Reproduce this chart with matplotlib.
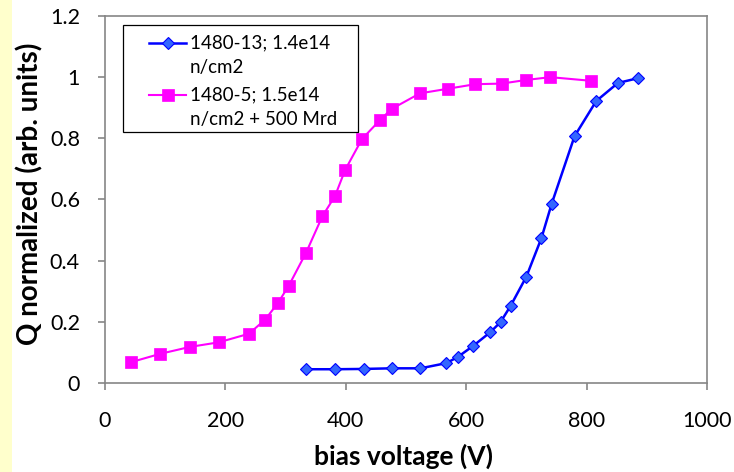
import matplotlib as mpl
import matplotlib.pyplot as plt
from matplotlib.lines import Line2D
from matplotlib.patches import Rectangle

mpl.rcParams['font.family'] = ['Lato', 'DejaVu Sans']

# 1480-13; 1.4e14 n/cm2
v_13 = [334, 382, 430, 476, 524, 567, 586, 612, 640, 657, 674, 700, 725, 742, 780, 816, 852, 886]
q_13 = [0.045, 0.045, 0.046, 0.048, 0.048, 0.065, 0.085, 0.122, 0.166, 0.199, 0.253, 0.348,
        0.474, 0.586, 0.807, 0.922, 0.981, 0.997]

# 1480-5; 1.5e14 n/cm2 + 500 Mrd
v_5 = [43, 91, 141, 189, 239, 266, 287, 305, 334, 361, 382, 399, 427, 457, 476, 523, 569,
       615, 659, 700, 740, 808]
q_5 = [0.068, 0.095, 0.118, 0.133, 0.161, 0.207, 0.261, 0.317, 0.426, 0.545, 0.611, 0.697,
       0.798, 0.860, 0.896, 0.947, 0.962, 0.977, 0.979, 0.991, 1.000, 0.988]

labels = [["1480-13; 1.4e14", "n/cm2"], ["1480-5; 1.5e14", "n/cm2 + 500 Mrd"]]

W, H = 734, 472
fig = plt.figure(figsize=(W / 100, H / 100), dpi=100)
ax = fig.add_axes([105 / W, 1 - 383 / H, 602 / W, 367 / H])

# pale yellow strip at the left edge
fig.patches.append(Rectangle((0, 0), 12 / W, 1, transform=fig.transFigure,
                             facecolor='#FFFFCC', edgecolor='none', zorder=0))

blue = dict(color='#0000FF', lw=1.8, marker='D', ms=6.5, mfc='#3366FF', mec='#0000FF', mew=0.8)
pink = dict(color='#FF00FF', lw=1.5, marker='s', ms=8.5, mfc='#FF00FF', mec='#FF00FF', mew=0.5)

ax.plot(v_13, q_13, zorder=3, **blue)
ax.plot(v_5, q_5, zorder=3, **pink)

ax.set_xlim(0, 1000)
ax.set_ylim(0, 1.2)
ax.set_xticks([0, 200, 400, 600, 800, 1000])
ax.set_yticks([0, 0.2, 0.4, 0.6, 0.8, 1.0, 1.2])
ax.set_yticklabels(['0', '0.2', '0.4', '0.6', '0.8', '1', '1.2'])
for s in ax.spines.values():
    s.set_color('#868686')
    s.set_linewidth(1.2)
ax.tick_params(colors='#868686', labelcolor='black', labelsize=15.5, length=5, width=1.2)
ax.tick_params(axis='x', pad=15)
ax.tick_params(axis='y', pad=13)

fig.text(404 / W, 1 - 456 / H, "bias voltage (V)", ha='center', va='center',
         fontsize=19, fontweight='bold')
fig.text(30 / W, 1 - 194 / H, "Q normalized (arb. units)", ha='center', va='center',
         rotation=90, fontsize=20, fontweight='bold')

# legend drawn by hand so the marker sits beside the first line of each label
fig.patches.append(Rectangle((123 / W, 1 - 131.5 / H), 235 / W, 106.5 / H,
                             transform=fig.transFigure, facecolor='white',
                             edgecolor='black', lw=0.9, zorder=5))
for (style, lab, y0) in [(blue, labels[0], 43), (pink, labels[1], 95)]:
    fig.lines.append(Line2D([149 / W, 168 / W, 186 / W], [1 - y0 / H] * 3,
                            transform=fig.transFigure, markevery=[1], zorder=6, **style))
    for i, line in enumerate(lab):
        fig.text(190 / W, 1 - (y0 + 24 * i) / H, line, ha='left', va='center',
                 fontsize=13.5, zorder=6)

fig.savefig("out.png", dpi=100)
